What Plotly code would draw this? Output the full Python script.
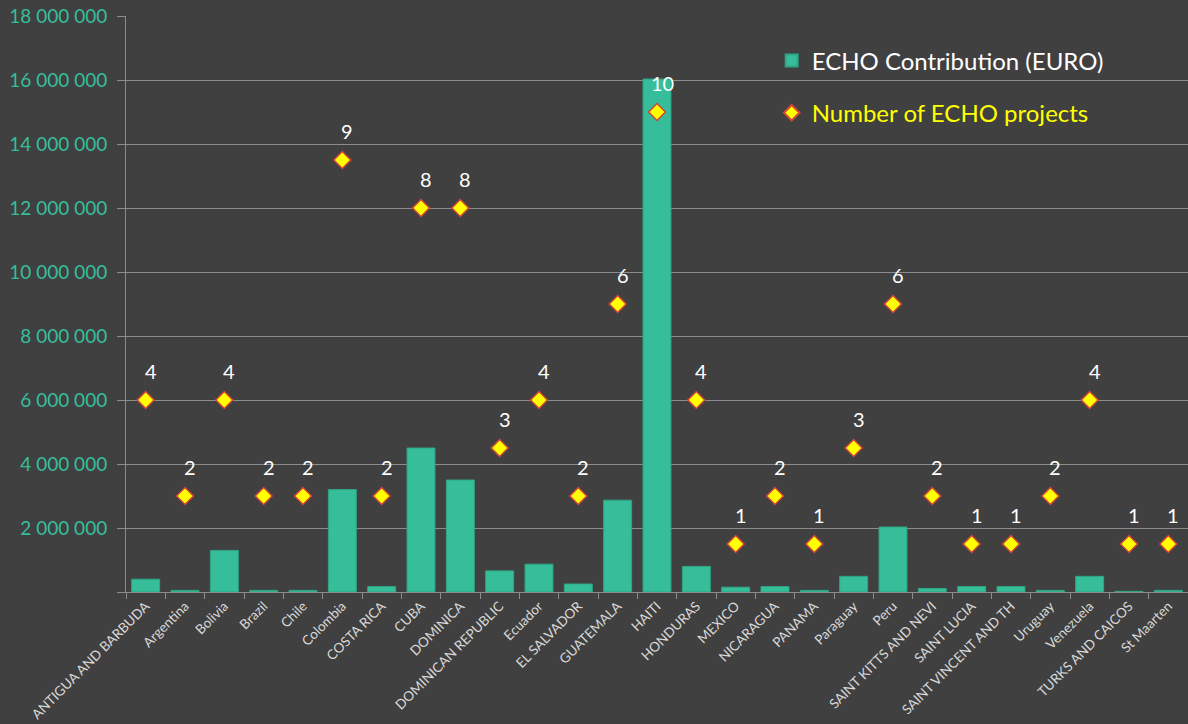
import plotly.graph_objects as go

countries = ["ANTIGUA AND BARBUDA", "Argentina", "Bolivia", "Brazil", "Chile", "Colombia",
             "COSTA RICA", "CUBA", "DOMINICA", "DOMINICAN REPUBLIC", "Ecuador", "EL SALVADOR",
             "GUATEMALA", "HAITI", "HONDURAS", "MEXICO", "NICARAGUA", "PANAMA", "Paraguay",
             "Peru", "SAINT KITTS AND NEVI", "SAINT LUCIA", "SAINT VINCENT AND TH", "Uruguay",
             "Venezuela", "TURKS AND CAICOS", "St Maarten"]
contribution = [400000, 50000, 1300000, 50000, 50000, 3200000, 170000, 4500000, 3500000,
                660000, 870000, 250000, 2870000, 16030000, 800000, 150000, 170000, 50000,
                490000, 2030000, 110000, 170000, 170000, 50000, 490000, 20000, 50000]
projects = [4, 2, 4, 2, 2, 9, 2, 8, 8, 3, 4, 2, 6, 10, 4, 1, 2, 1, 3, 6, 2, 1, 1, 2, 4, 1, 1]
y_ticks = [0, 2000000, 4000000, 6000000, 8000000, 10000000, 12000000, 14000000, 16000000, 18000000]
y_tick_labels = ["", "2 000 000", "4 000 000", "6 000 000", "8 000 000", "10 000 000",
                 "12 000 000", "14 000 000", "16 000 000", "18 000 000"]

BG = "#404040"
TEAL = "#36BE9A"
GRID = "#8C8C8C"
FONT = "Lato, 'Open Sans', sans-serif"

fig = go.Figure()
fig.add_trace(go.Bar(
    x=countries, y=contribution, name="ECHO Contribution (EURO)",
    marker=dict(color=TEAL, line=dict(color="#2FA584", width=1)),
    legendgroup="a",
))
fig.add_trace(go.Scatter(
    x=countries, y=projects, yaxis="y2", mode="markers",
    name="<span style='color:#FFFF00'>Number of ECHO projects</span>",
    marker=dict(symbol="diamond", size=13, color="#FFFF00",
                line=dict(color="#D0443A", width=1.5)),
    legendgroup="b",
))

for c, n in zip(countries, projects):
    fig.add_annotation(x=c, y=n, xref="x", yref="y2", text=str(n), showarrow=False,
                       yshift=29, xshift=5, font=dict(color="white", size=20, family=FONT))

fig.update_layout(
    width=1188, height=724,
    paper_bgcolor=BG, plot_bgcolor=BG,
    margin=dict(l=126, r=0, t=16, b=132),
    font=dict(family=FONT, color="#D9D9D9"),
    bargap=0.29,
    showlegend=True,
    legend=dict(x=0.608, y=0.961, xanchor="left", yanchor="top", bgcolor="rgba(0,0,0,0)",
                font=dict(size=24, color="white", family=FONT), tracegroupgap=18,
                itemsizing="constant"),
    xaxis=dict(
        range=[-0.5, len(countries) - 0.5],
        tickangle=-45, tickfont=dict(size=13.5, color="#D9D9D9"),
        showline=True, linecolor=GRID, linewidth=1,
        ticks="outside", tickson="boundaries", ticklen=6, tickcolor=GRID,
        showgrid=False, automargin=False,
    ),
    yaxis=dict(
        range=[0, 18000000], tickvals=y_ticks, ticktext=y_tick_labels,
        tickfont=dict(size=19, color=TEAL),
        showgrid=True, gridcolor=GRID, gridwidth=1,
        showline=True, linecolor=GRID, ticks="outside", ticklen=8, tickcolor=GRID,
        zeroline=False, ticklabelstandoff=6, automargin=False,
    ),
    yaxis2=dict(range=[0, 12], overlaying="y", side="right", visible=False),
)

fig.write_html("out.html", config={"displayModeBar": False},
               post_script="document.body.style.margin='0';")
